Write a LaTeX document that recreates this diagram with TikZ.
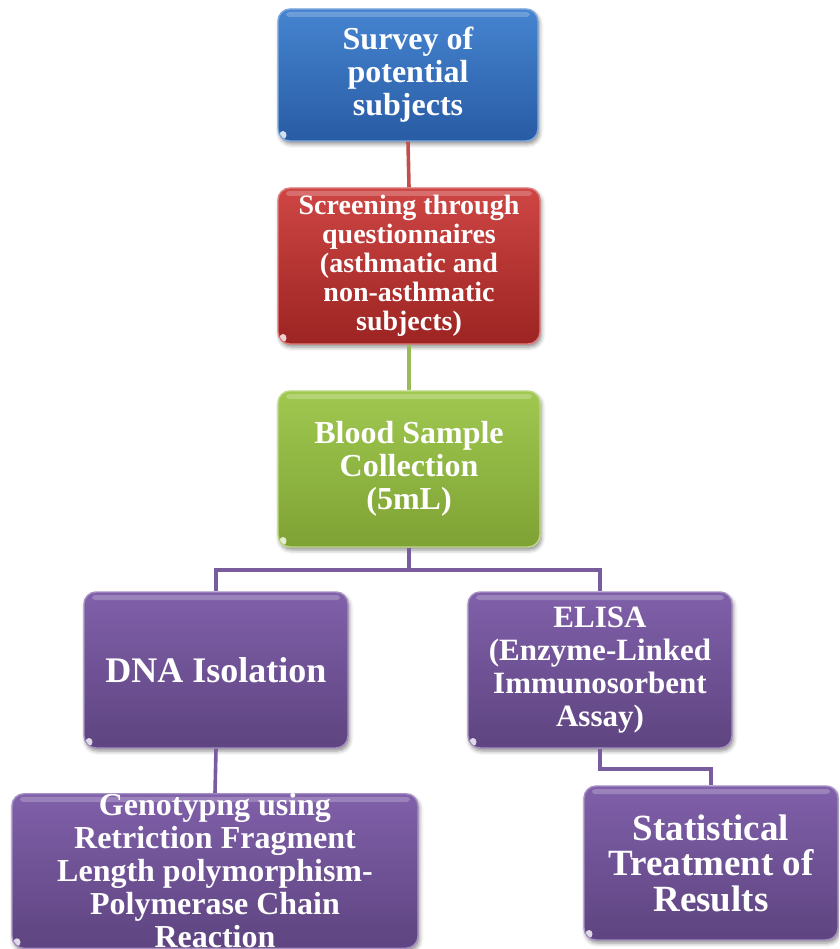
\documentclass[tikz,border=0pt]{standalone}
\usepackage{fontspec}
\setmainfont{Liberation Serif}
\usetikzlibrary{shadows.blur}

\definecolor{bluetop}{RGB}{70,132,208}
\definecolor{bluebot}{RGB}{40,92,164}
\definecolor{redtop}{RGB}{206,70,68}
\definecolor{redbot}{RGB}{156,36,34}
\definecolor{greentop}{RGB}{160,200,80}
\definecolor{greenbot}{RGB}{126,162,52}
\definecolor{purptop}{RGB}{128,96,170}
\definecolor{purpbot}{RGB}{94,68,128}
\definecolor{redline}{RGB}{192,80,77}
\definecolor{greenline}{RGB}{155,187,89}
\definecolor{purpline}{RGB}{120,92,158}

\tikzset{
  flowbox/.style={rounded corners=12pt, line width=1.4pt, text=white,
    align=center, inner sep=0pt,
    blur shadow={shadow xshift=1.5pt, shadow yshift=-3pt,
      shadow blur radius=4pt, shadow opacity=45},
    path picture={
      % glossy strip along the top edge
      \fill[white, opacity=0.22, rounded corners=3pt]
        ([shift={(8pt,-3pt)}]path picture bounding box.north west) rectangle
        ([shift={(-8pt,-8pt)}]path picture bounding box.north east);
      % small highlight in the lower left corner
      \fill[white, opacity=0.8]
        ([shift={(5pt,6pt)}]path picture bounding box.south west)
        ellipse[x radius=3.5pt, y radius=4pt];
    }},
  bluebox/.style={flowbox, top color=bluetop, bottom color=bluebot, draw=bluetop!70!white},
  redbox/.style={flowbox, top color=redtop, bottom color=redbot, draw=redtop!70!white},
  greenbox/.style={flowbox, top color=greentop, bottom color=greenbot, draw=greentop!70!white},
  purpbox/.style={flowbox, top color=purptop, bottom color=purpbot, draw=purptop!70!white},
  link/.style={line width=3.6pt},
  fsA/.style={font=\fontsize{32}{33}\selectfont\bfseries},
  fsB/.style={font=\fontsize{28}{29}\selectfont\bfseries},
  fsC/.style={font=\fontsize{36}{36}\selectfont\bfseries},
  fsD/.style={font=\fontsize{31}{33}\selectfont\bfseries},
  fsE/.style={font=\fontsize{37}{35.5}\selectfont\bfseries},
}

\begin{document}
\begin{tikzpicture}[x=1pt,y=-1pt]
  \useasboundingbox (0,0) rectangle (839,949);
  \clip (0,0) rectangle (839,949);

  % boxes
  \node[bluebox, fsA, minimum width=260pt, minimum height=132pt] (sv) at (408,75)
    {Survey of\\potential\\subjects};
  \node[redbox, fsB, minimum width=262pt, minimum height=156pt] (sq) at (409,266)
    {Screening through\\questionnaires\\(asthmatic and\\non-asthmatic\\subjects)};
  \node[greenbox, fsA, minimum width=262pt, minimum height=156pt] (bs) at (409,469)
    {Blood Sample\\Collection\\(5mL)};
  \node[purpbox, fsC, minimum width=264pt, minimum height=156pt] (dna) at (216,670)
    {DNA Isolation};
  \node[purpbox, fsD, minimum width=264pt, minimum height=156pt] (el) at (600,670)
    {ELISA\\(Enzyme-Linked\\Immunosorbent\\Assay)};
  \node[purpbox, fsA, minimum width=406pt, minimum height=154pt] (gt) at (215,871)
    {Genotypng using\\Retriction Fragment\\Length polymorphism-\\Polymerase Chain\\Reaction};
  \node[purpbox, fsE, minimum width=254pt, minimum height=154pt] (st) at (711,863)
    {Statistical\\Treatment of\\Results};

  % connectors
  \draw[link, redline] (sv.south) -- (sq.north);
  \draw[link, greenline] (sq.south) -- (bs.north);
  \draw[link, purpline] (bs.south) -- ++(0,22) -| (dna.north);
  \draw[link, purpline] (bs.south) -- ++(0,22) -| (el.north);
  \draw[link, purpline] (dna.south) -- (gt.north);
  \draw[link, purpline] (el.south) -- ++(0,20) -| (st.north);
\end{tikzpicture}
\end{document}
